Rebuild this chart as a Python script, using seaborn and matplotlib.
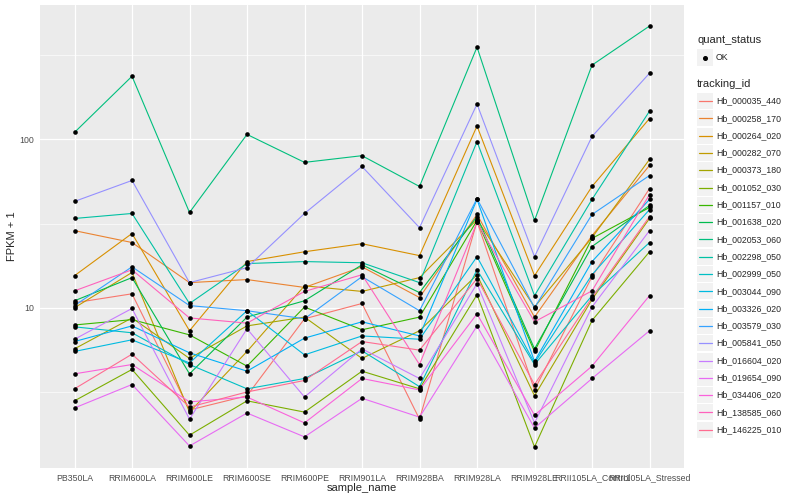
import numpy as np
import pandas as pd
import matplotlib
matplotlib.use("Agg")
import matplotlib.pyplot as plt
from matplotlib.lines import Line2D
from matplotlib.patches import Rectangle
from matplotlib.ticker import FixedLocator, NullFormatter
import seaborn as sns

samples = ["PB350LA", "RRIM600LA", "RRIM600LE", "RRIM600SE", "RRIM600PE", "RRIM901LA",
           "RRIM928BA", "RRIM928LA", "RRIM928LE", "RRII105LA_Control", "RRII105LA_Stressed"]

tracking_ids = ["Hb_000035_440", "Hb_000258_170", "Hb_000264_020", "Hb_000282_070",
                "Hb_000373_180", "Hb_001052_030", "Hb_001157_010", "Hb_001638_020",
                "Hb_002053_060", "Hb_002298_050", "Hb_002999_050", "Hb_003044_090",
                "Hb_003326_020", "Hb_003579_030", "Hb_005841_050", "Hb_016604_020",
                "Hb_019654_090", "Hb_034406_020", "Hb_138585_060", "Hb_146225_010"]

# FPKM + 1 per sample (same order as samples)
hb_000035_440 = [10.7, 12.1, 2.47, 3.0, 8.6, 10.6, 2.18, 32.5, 3.25, 15.3, 51]
hb_000258_170 = [28.7, 24.4, 14.1, 14.7, 13.2, 17.5, 11.5, 35.8, 8.8, 26.8, 70]
hb_000264_020 = [15.5, 27.6, 7.3, 18.8, 21.5, 24.0, 20.4, 120, 15.5, 52.5, 133]
hb_000282_070 = [10.0, 16.2, 2.4, 5.5, 13.5, 12.5, 15.1, 33.4, 10.1, 26.1, 76]
hb_000373_180 = [5.7, 8.7, 5.0, 7.8, 8.8, 5.0, 7.3, 15.7, 3.0, 11.2, 33.9]
hb_001052_030 = [2.8, 4.3, 1.75, 2.8, 2.4, 4.2, 3.3, 11.95, 1.49, 8.4, 21.5]
hb_001157_010 = [7.9, 8.5, 6.9, 4.5, 10.1, 7.4, 8.8, 33.0, 5.5, 25.8, 39.4]
hb_001638_020 = [11.0, 15.1, 4.05, 8.8, 11.0, 18.0, 12.3, 34.8, 5.7, 23.1, 40.5]
hb_002053_060 = [110, 237, 36.8, 107, 73, 80, 52.5, 353, 33.0, 276, 471]
hb_002298_050 = [33.9, 36.3, 10.6, 18.3, 18.8, 18.5, 14.1, 97, 11.8, 44, 147]
hb_002999_050 = [7.7, 7.1, 4.6, 3.3, 3.8, 5.55, 3.4, 16.8, 4.6, 11.8, 24.4]
hb_003044_090 = [5.5, 6.45, 4.7, 9.6, 5.25, 6.8, 6.5, 20.1, 4.7, 15.7, 38.3]
hb_003326_020 = [6.3, 7.8, 5.4, 4.2, 6.6, 8.25, 6.8, 44, 4.8, 18.8, 44]
hb_003579_030 = [10.3, 17.5, 10.3, 9.6, 8.6, 15.3, 9.6, 44.5, 10.0, 35.8, 61]
hb_005841_050 = [42.8, 57, 14.1, 17.3, 36.3, 69, 29.9, 162, 20.1, 104, 247]
hb_016604_020 = [6.5, 9.9, 2.18, 7.5, 2.95, 5.7, 3.8, 13.9, 2.07, 10.1, 28.7]
hb_019654_090 = [2.54, 3.5, 1.51, 2.37, 1.71, 2.9, 2.24, 7.8, 1.93, 3.8, 7.3]
hb_034406_020 = [4.05, 4.6, 2.76, 2.95, 2.07, 3.8, 3.25, 9.2, 2.3, 4.5, 11.8]
hb_138585_060 = [12.6, 16.8, 8.7, 8.1, 12.5, 15.7, 4.6, 32.1, 8.25, 12.6, 47]
hb_146225_010 = [3.3, 5.3, 2.57, 3.16, 3.7, 6.3, 5.6, 14.9, 3.5, 11.5, 34.8]

gene_values = [hb_000035_440, hb_000258_170, hb_000264_020, hb_000282_070, hb_000373_180,
               hb_001052_030, hb_001157_010, hb_001638_020, hb_002053_060, hb_002298_050,
               hb_002999_050, hb_003044_090, hb_003326_020, hb_003579_030, hb_005841_050,
               hb_016604_020, hb_019654_090, hb_034406_020, hb_138585_060, hb_146225_010]

# ggplot2 default hue palette for 20 levels
palette = ["#F8766D", "#EA8331", "#D89000", "#C09B00", "#A3A500", "#7CAE00", "#39B600",
           "#00BB4E", "#00BF7D", "#00C1A3", "#00BFC4", "#00BAE0", "#00B0F6", "#35A2FF",
           "#9590FF", "#C77CFF", "#E76BF3", "#FA62DB", "#FF62BC", "#FF6C91"]

df = pd.DataFrame({
    "sample_name": samples * len(tracking_ids),
    "tracking_id": np.repeat(tracking_ids, len(samples)),
    "fpkm": np.concatenate(gene_values),
})

sns.set_style("darkgrid", {"axes.facecolor": "#EBEBEB", "grid.color": "white"})
plt.rcParams['font.family'] = ['Liberation Sans', 'DejaVu Sans']

W, H = 800, 500
fig = plt.figure(figsize=(8, 5), dpi=100)
ax = fig.add_axes([40 / W, 1 - 468 / H, 644 / W, 463 / H])

sns.lineplot(data=df, x="sample_name", y="fpkm", hue="tracking_id", palette=palette,
             sort=False, estimator=None, lw=0.8, legend=False, ax=ax, zorder=2)
sns.scatterplot(data=df, x="sample_name", y="fpkm", color="black", s=11, linewidth=0,
                legend=False, ax=ax, zorder=3)

ax.set_yscale("log")
lo, hi = np.log10(df["fpkm"].min()), np.log10(df["fpkm"].max())
pad = 0.05 * (hi - lo)
ax.set_ylim(10 ** (lo - pad), 10 ** (hi + pad))
ax.set_xlim(-0.6, len(samples) - 0.4)

ax.yaxis.set_major_locator(FixedLocator([10, 100]))
ax.set_yticklabels(["10", "100"])
ax.yaxis.set_minor_locator(FixedLocator([10 ** 0.5, 10 ** 1.5, 10 ** 2.5]))
ax.yaxis.set_minor_formatter(NullFormatter())

ax.grid(which="major", color="white", lw=0.9)
ax.grid(which="minor", axis="y", color="white", lw=0.45)
ax.tick_params(which="major", length=2.5, width=0.6, color="#333333",
               labelsize=6.3, labelcolor="#4D4D4D", pad=1.5)
ax.tick_params(which="minor", length=0)
for s in ax.spines.values():
    s.set_visible(False)

ax.set_xlabel("")
ax.set_ylabel("")
fig.text(362 / W, 1 - 488 / H, "sample_name", ha="center", va="center", size=8)
fig.text(12 / W, 1 - 236 / H, "FPKM + 1", ha="center", va="center", size=8, rotation=90)

# legends
def box(x, y, w=16, h=16):
    fig.add_artist(Rectangle((x / W, 1 - (y + h) / H), w / W, h / H,
                             transform=fig.transFigure, facecolor="#F2F2F2",
                             edgecolor="none"))

fig.text(697 / W, 1 - 40 / H, "quant_status", va="center", size=8)
box(697, 49.5)
fig.add_artist(Line2D([705 / W], [1 - 57.5 / H], marker="o", markersize=2.6,
                      color="black", transform=fig.transFigure))
fig.text(716 / W, 1 - 57.5 / H, "OK", va="center", size=6.3)

fig.text(697 / W, 1 - 84 / H, "tracking_id", va="center", size=8)
for i, (tid, col) in enumerate(zip(tracking_ids, palette)):
    yc = 101 + i * 17.3
    box(697, yc - 8)
    fig.add_artist(Line2D([698.5 / W, 711.5 / W], [1 - yc / H, 1 - yc / H], color=col,
                          lw=0.9, transform=fig.transFigure))
    fig.text(716 / W, 1 - yc / H, tid, va="center", size=6.3)

fig.savefig("out.png", dpi=100)
